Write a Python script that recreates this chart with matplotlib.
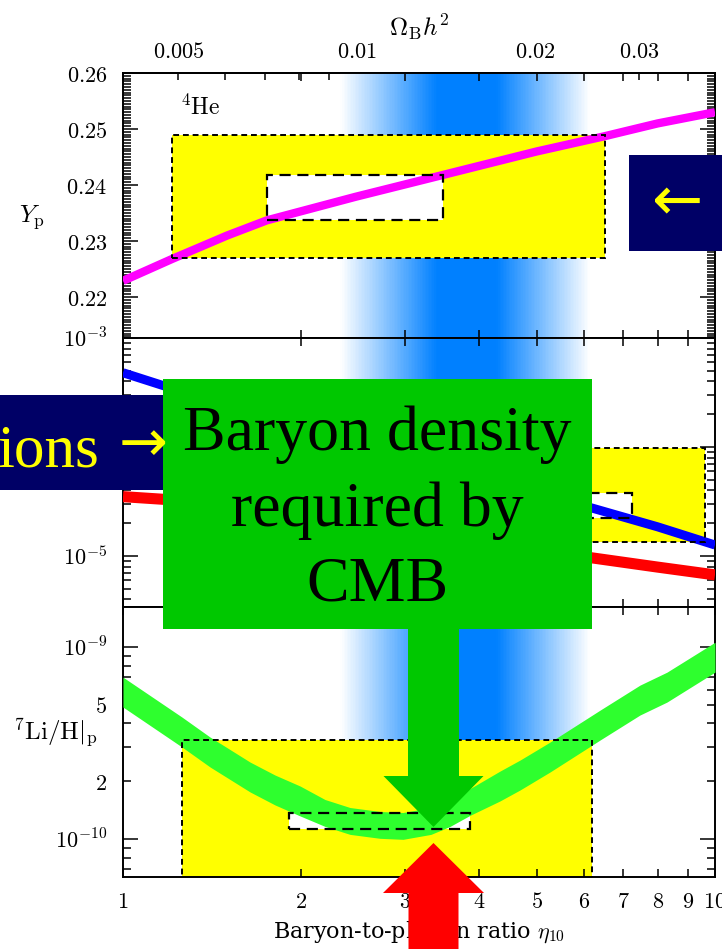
import numpy as np
import matplotlib
matplotlib.use("Agg")
import matplotlib.pyplot as plt
from matplotlib.patches import Rectangle, FancyArrow
from matplotlib.ticker import FixedLocator, FuncFormatter, LogLocator, NullLocator, MultipleLocator

plt.rcParams["mathtext.fontset"] = "cm"
plt.rcParams["font.family"] = ["DejaVu Serif"]

W, H = 722, 949
ETA_PER_OMEGA = 248.0

# 4He mass fraction Y_p vs eta_10
he_eta = [1.0, 1.21, 1.5, 1.75, 2.47, 3.47, 5.0, 6.5, 8.0, 10.0]
he_yp = [0.2229, 0.2268, 0.2310, 0.2337, 0.2379, 0.2418, 0.2460, 0.2487, 0.2510, 0.2530]
he_box = (1.21, 6.52, 0.227, 0.2489)          # eta lo, eta hi, y lo, y hi
he_inner = (1.75, 3.47, 0.2338, 0.2418)

# D/H (blue) and 3He/H (red)
dh_eta = [1.0, 1.18, 2.0, 3.0, 4.0, 5.0, 6.2, 8.0, 10.0]
dh_val = [4.8e-4, 3.6e-4, 1.6e-4, 8.4e-5, 5.4e-5, 3.8e-5, 2.75e-5, 1.85e-5, 1.26e-5]
he3_val = [3.5e-5, 3.3e-5, 2.3e-5, 1.75e-5, 1.4e-5, 1.18e-5, 9.6e-6, 7.9e-6, 6.7e-6]
d_box = (2.0, 9.6, 1.34e-5, 9.8e-5)
d_inner = (3.0, 7.24, 2.23e-5, 3.79e-5)

# 7Li/H band
li_eta = [1.0, 1.258, 1.403, 1.639, 1.806, 1.991, 2.194, 2.418, 2.718, 2.972,
          3.313, 3.568, 3.857, 4.334, 4.685, 5.265, 6.395, 7.468, 8.296, 10.0]
li_lo = [4.871e-10, 3.014e-10, 2.372e-10, 1.758e-10, 1.504e-10, 1.318e-10, 1.162e-10,
         1.056e-10, 1.007e-10, 9.95e-11, 1.056e-10, 1.162e-10, 1.327e-10, 1.578e-10,
         1.800e-10, 2.234e-10, 3.279e-10, 4.426e-10, 5.172e-10, 7.411e-10]
li_hi = [6.975e-10, 4.318e-10, 3.398e-10, 2.517e-10, 2.154e-10, 1.888e-10, 1.605e-10,
         1.458e-10, 1.390e-10, 1.373e-10, 1.458e-10, 1.605e-10, 1.831e-10, 2.259e-10,
         2.578e-10, 3.200e-10, 4.695e-10, 6.339e-10, 7.408e-10, 1.061e-9]
li_box = (1.258, 6.2, 1e-12, 3.28e-10)
li_inner = (1.908, 3.855, 1.13e-10, 1.36e-10)

# CMB band profile (blue gradient)
cmb_eta = [2.33, 3.39, 4.28, 6.15]
cmb_weight = [0.0, 1.0, 1.0, 0.0]

eta_ticks = [1, 2, 3, 4, 5, 6, 7, 8, 9, 10]
omega_major = [0.01]
omega_minor = [0.005, 0.006, 0.007, 0.008, 0.009, 0.02, 0.03]
omega_minor_labels = {0.005: "0.005", 0.02: "0.02", 0.03: "0.03"}

NAVY = "#000066"
GREEN = "#00c800"
YELLOW = "#ffff00"
TICK_FS = 16


def panel_rect(top_px, bot_px):
    return [123 / W, 1 - bot_px / H, (715 - 123) / W, (bot_px - top_px) / H]


def cmb_band(ax):
    edges = np.logspace(np.log10(cmb_eta[0]), np.log10(cmb_eta[-1]), 161)
    for a, b in zip(edges[:-1], edges[1:]):
        w = np.interp(0.5 * (np.log10(a) + np.log10(b)), np.log10(cmb_eta), cmb_weight)
        ax.axvspan(a, b, color=(1 - w, 1 - 0.498 * w, 1.0), lw=0, zorder=0.5)


def obs_box(ax, box, face, dashes, lw):
    x0, x1, y0, y1 = box
    ax.add_patch(Rectangle((x0, y0), x1 - x0, y1 - y0, facecolor=face,
                           edgecolor="none", zorder=1 if face == YELLOW else 1.5))
    ax.add_patch(Rectangle((x0, y0), x1 - x0, y1 - y0, facecolor="none",
                           edgecolor="black", lw=lw, linestyle=(0, dashes), zorder=4))


def style(ax):
    ax.set_xscale("log")
    ax.set_xlim(1, 10)
    ax.xaxis.set_major_locator(FixedLocator(eta_ticks))
    ax.xaxis.set_minor_locator(NullLocator())
    ax.tick_params(axis="x", which="major", direction="in", top=True, bottom=True,
                   length=6, width=1.1, pad=10, labelsize=TICK_FS, labelbottom=False)
    ax.tick_params(axis="y", which="both", direction="in", left=True, right=True,
                   width=1.1, pad=11.5, labelsize=TICK_FS)
    ax.tick_params(axis="y", which="major", length=11)
    ax.tick_params(axis="y", which="minor", length=6)
    for s in ax.spines.values():
        s.set_linewidth(1.4)


def pow_fmt(v, pos):
    return r"$10^{%d}$" % round(np.log10(v))


def omega_minor_fmt(v, pos):
    key = round(v, 3)
    return "$%s$" % omega_minor_labels[key] if key in omega_minor_labels else ""


fig = plt.figure(figsize=(W / 100, H / 100), dpi=100)

# ---- 4He panel
ax1 = fig.add_axes(panel_rect(73, 338))
style(ax1)
ax1.set_ylim(0.2127, 0.26)
ax1.yaxis.set_major_locator(MultipleLocator(0.01))
ax1.yaxis.set_minor_locator(MultipleLocator(0.0005))
ax1.yaxis.set_major_formatter(FuncFormatter(lambda v, p: "$%.2f$" % v))
cmb_band(ax1)
obs_box(ax1, he_box, YELLOW, (3, 2), 1.4)
obs_box(ax1, he_inner, "white", (5, 3), 1.6)
ax1.plot(he_eta, he_yp, color="#ff00ff", lw=6, solid_capstyle="butt", zorder=3)
ax1.text(0.096, 0.872, r"$^4\mathrm{He}$", transform=ax1.transAxes, fontsize=17,
         ha="left", va="center")
ax1.text(-0.154, 0.457, r"$Y_\mathrm{p}$", transform=ax1.transAxes, fontsize=18,
         ha="center", va="center")

sec = ax1.secondary_xaxis("top", functions=(lambda e: e / ETA_PER_OMEGA,
                                            lambda o: o * ETA_PER_OMEGA))
sec.xaxis.set_major_locator(FixedLocator(omega_major))
sec.xaxis.set_minor_locator(FixedLocator(omega_minor))
sec.xaxis.set_major_formatter(FuncFormatter(lambda v, p: "$0.01$"))
sec.xaxis.set_minor_formatter(FuncFormatter(omega_minor_fmt))
sec.tick_params(which="both", direction="in", pad=7, labelsize=TICK_FS, width=1.1)
sec.tick_params(which="major", length=9.5)
sec.tick_params(which="minor", length=5)
sec.spines["top"].set_linewidth(1.4)
sec.set_xlabel(r"$\Omega_\mathrm{B}h^2$", fontsize=18, labelpad=4)

# ---- D and 3He panel
ax2 = fig.add_axes(panel_rect(338, 607))
style(ax2)
ax2.set_yscale("log")
ax2.set_ylim(3.4e-6, 1e-3)
ax2.yaxis.set_major_locator(LogLocator(base=10))
ax2.yaxis.set_minor_locator(LogLocator(base=10, subs=np.arange(2, 10)))
ax2.yaxis.set_major_formatter(FuncFormatter(pow_fmt))
ax2.yaxis.set_minor_formatter(FuncFormatter(lambda v, p: ""))
ax2.tick_params(axis="y", which="major", length=11)
ax2.tick_params(axis="y", which="minor", length=6)
cmb_band(ax2)
obs_box(ax2, d_box, YELLOW, (3, 2), 1.4)
obs_box(ax2, d_inner, "white", (5, 3), 1.6)
ax2.plot(dh_eta, dh_val, color="#0000ff", lw=6.5, solid_capstyle="butt", zorder=3)
ax2.plot(dh_eta, he3_val, color="#ff0000", lw=8, solid_capstyle="butt", zorder=3)

# ---- 7Li panel
ax3 = fig.add_axes(panel_rect(607, 877))
style(ax3)
ax3.set_yscale("log")
ax3.set_ylim(6.33e-11, 1.62e-9)
ax3.yaxis.set_major_locator(LogLocator(base=10))
ax3.yaxis.set_minor_locator(LogLocator(base=10, subs=np.arange(2, 10)))
ax3.yaxis.set_major_formatter(FuncFormatter(pow_fmt))


def li_minor(v, pos):
    m = round(v / 10 ** np.floor(np.log10(v) + 1e-9))
    return "$%d$" % m if m in (2, 5) and 1e-10 < v < 1e-9 else ""


ax3.yaxis.set_minor_formatter(FuncFormatter(li_minor))
ax3.tick_params(axis="y", which="major", length=11)
ax3.tick_params(axis="y", which="minor", length=6)
ax3.tick_params(axis="x", labelbottom=True)
ax3.xaxis.set_major_formatter(FuncFormatter(lambda v, p: "$%d$" % round(v)))
cmb_band(ax3)
obs_box(ax3, li_box, YELLOW, (3, 2), 1.4)
ax3.add_patch(Rectangle((li_inner[0], li_inner[2]), li_inner[1] - li_inner[0],
                        li_inner[3] - li_inner[2], facecolor="white", edgecolor="none", zorder=1.5))
ax3.fill_between(li_eta, li_lo, li_hi, color="#2eff2e", lw=0, zorder=3)
ax3.add_patch(Rectangle((li_inner[0], li_inner[2]), li_inner[1] - li_inner[0],
                        li_inner[3] - li_inner[2], facecolor="none", edgecolor="black",
                        lw=1.6, linestyle=(0, (5, 3)), zorder=4))
ax3.text(-0.115, 0.533, r"$^7\mathrm{Li/H}|_\mathrm{p}$", transform=ax3.transAxes,
         fontsize=18, ha="center", va="center")
ax3.set_xlabel(r"Baryon-to-photon ratio $\eta_{10}$", fontsize=16, labelpad=5)

# ---- slide overlays (pixel coordinates)
ov = fig.add_axes([0, 0, 1, 1], zorder=10)
ov.set_xlim(0, W)
ov.set_ylim(H, 0)
ov.set_facecolor("none")
ov.axis("off")

serif = ["Liberation Serif", "DejaVu Serif"]
arrow_font = ["DejaVu Sans"]
ov.add_patch(Rectangle((629, 155), 120, 96, facecolor=NAVY, edgecolor="none"))
ov.text(652, 204, "\u2190", color=YELLOW, fontsize=44, family=arrow_font,
        ha="left", va="center")

ov.add_patch(Rectangle((0, 395), 200, 95, facecolor=NAVY, edgecolor="none"))
ov.text(-2, 466, "ions", color=YELLOW, fontsize=44, family=serif, ha="left", va="baseline")
ov.text(168, 444, "\u2192", color=YELLOW, fontsize=42, family=arrow_font,
        ha="right", va="center")

ov.add_patch(Rectangle((163, 379), 429, 250, facecolor=GREEN, edgecolor="none"))
ov.text(377.5, 510, "Baryon density\nrequired by\nCMB", color="black", fontsize=46,
        family=serif, ha="center", va="center", linespacing=1.38)

ov.add_patch(FancyArrow(433.5, 628, 0, 199, width=51, head_width=100, head_length=51,
                        length_includes_head=True, facecolor=GREEN, edgecolor="none"))
ov.add_patch(FancyArrow(433.5, 960, 0, -117, width=50, head_width=101, head_length=50,
                        length_includes_head=True, facecolor="#ff0000", edgecolor="none"))

fig.savefig("out.png", dpi=100)
